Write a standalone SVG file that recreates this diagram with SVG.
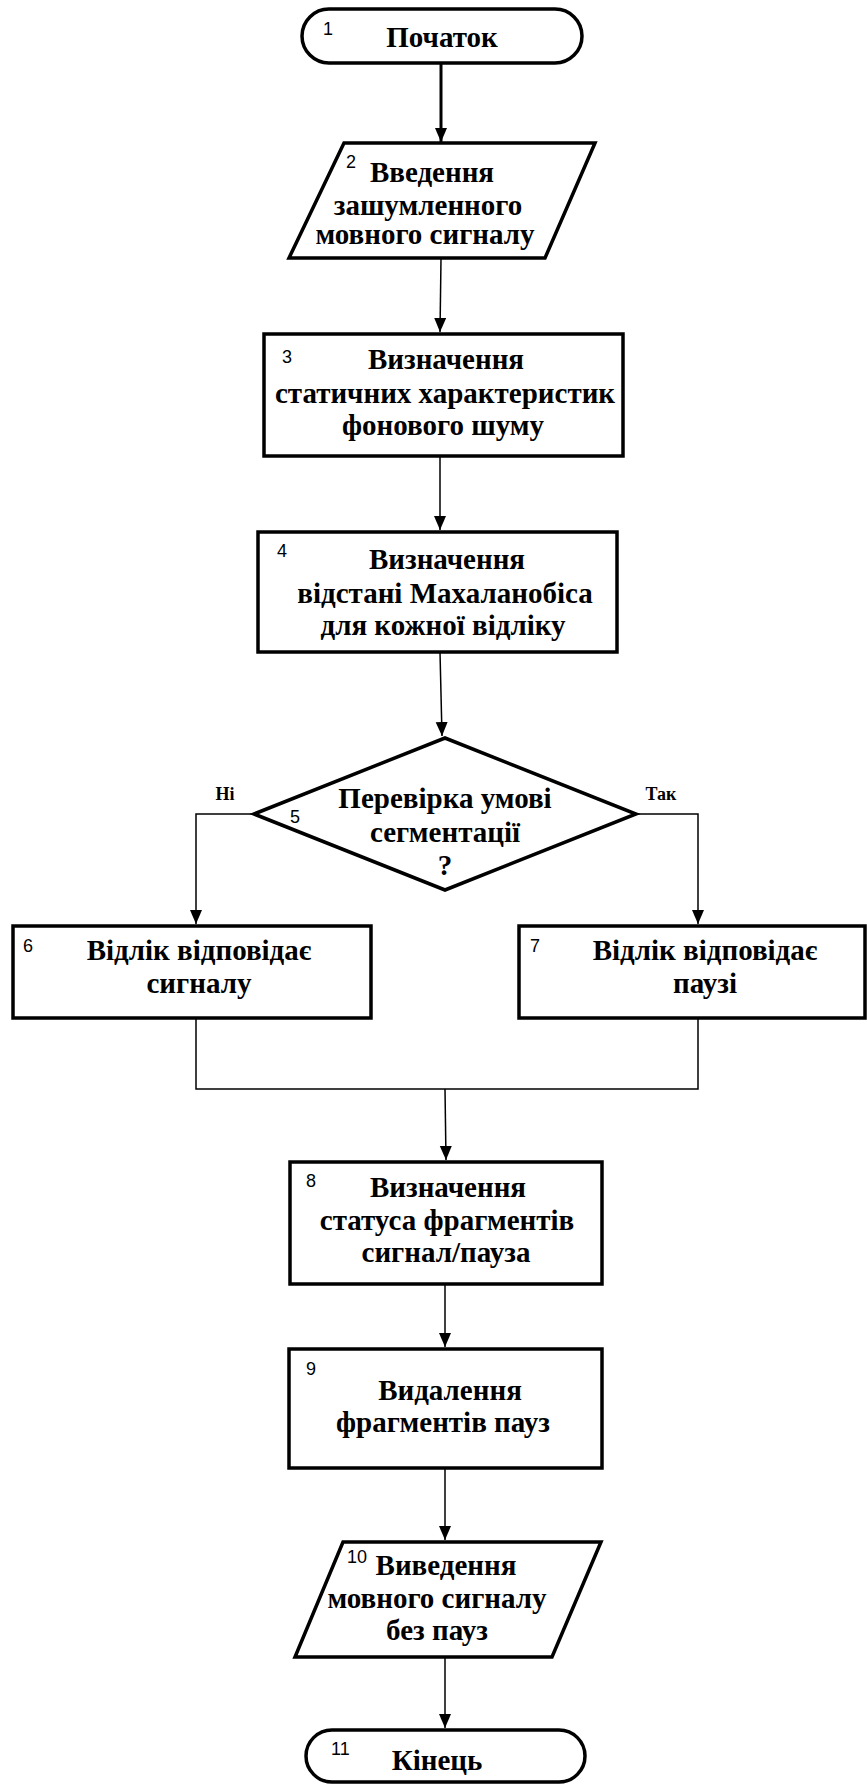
<svg xmlns="http://www.w3.org/2000/svg" width="867" height="1785" viewBox="0 0 867 1785">
<style>
.shape{fill:#fff;stroke:#000;stroke-width:3.5;stroke-linejoin:miter}
.t{font-family:"Liberation Serif","Times New Roman",serif;font-size:29px;font-weight:bold;fill:#000;text-anchor:middle}
.n{font-family:"Liberation Sans",Arial,sans-serif;font-size:18px;fill:#000}
.lbl{font-family:"Liberation Serif","Times New Roman",serif;font-size:18px;font-weight:bold;fill:#000;text-anchor:middle}
.c{fill:none;stroke:#000;stroke-width:1.5}
</style>
<defs>
<marker id="ah" markerUnits="userSpaceOnUse" markerWidth="14" markerHeight="16" refX="14" refY="6" orient="auto">
<path d="M0,0 L14,6 L0,12 Z" fill="#000"/>
</marker>
</defs>
<rect width="867" height="1785" fill="#fff"/>
<g id="connectors">
<line class="c" x1="441" y1="63" x2="441" y2="142" style="stroke-width:3" marker-end="url(#ah)"/>
<line class="c" x1="441" y1="259" x2="440" y2="332" marker-end="url(#ah)"/>
<line class="c" x1="440" y1="456" x2="440" y2="530" marker-end="url(#ah)"/>
<line class="c" x1="440" y1="652" x2="442" y2="736" marker-end="url(#ah)"/>
<polyline class="c" points="254,814 196,814 196,924" marker-end="url(#ah)"/>
<polyline class="c" points="636,814 698,814 698,924" marker-end="url(#ah)"/>
<polyline class="c" points="196,1018 196,1089 698,1089 698,1018"/>
<line class="c" x1="445" y1="1089" x2="446" y2="1160" marker-end="url(#ah)"/>
<line class="c" x1="445" y1="1284" x2="445" y2="1347" marker-end="url(#ah)"/>
<line class="c" x1="445" y1="1468" x2="445" y2="1540" marker-end="url(#ah)"/>
<line class="c" x1="445" y1="1657" x2="445" y2="1728" marker-end="url(#ah)"/>
<text class="lbl" x="225" y="800">Ні</text>
<text class="lbl" x="661" y="800">Так</text>
</g>
<g id="node1">
<rect class="shape" x="302" y="9" width="280" height="54" rx="27" ry="27"/>
<text class="n" x="323" y="35">1</text>
<text class="t" x="442" y="47">Початок</text>
</g>
<g id="node2">
<polygon class="shape" points="344,143 595,143 545,258 289,258"/>
<text class="n" x="346" y="168">2</text>
<text class="t" x="432" y="182">Введення</text>
<text class="t" x="428" y="215">зашумленного</text>
<text class="t" x="425" y="244">мовного сигналу</text>
</g>
<g id="node3">
<rect class="shape" x="264" y="334" width="359" height="122"/>
<text class="n" x="282" y="363">3</text>
<text class="t" x="446" y="369">Визначення</text>
<text class="t" x="445" y="403">статичних характеристик</text>
<text class="t" x="443" y="435">фонового шуму</text>
</g>
<g id="node4">
<rect class="shape" x="258" y="532" width="359" height="120"/>
<text class="n" x="277" y="557">4</text>
<text class="t" x="447" y="569">Визначення</text>
<text class="t" x="445" y="603">відстані Махаланобіса</text>
<text class="t" x="443" y="635">для кожної відліку</text>
</g>
<g id="node5">
<polygon class="shape" points="445,738 636,814 445,890 254,814"/>
<text class="n" x="290" y="823">5</text>
<text class="t" x="445" y="808">Перевірка умові</text>
<text class="t" x="445" y="842">сегментації</text>
<text class="t" x="445" y="875">?</text>
</g>
<g id="node6">
<rect class="shape" x="13" y="926" width="358" height="92"/>
<text class="n" x="23" y="952">6</text>
<text class="t" x="199" y="960">Відлік відповідає</text>
<text class="t" x="199" y="993">сигналу</text>
</g>
<g id="node7">
<rect class="shape" x="519" y="926" width="346" height="92"/>
<text class="n" x="530" y="952">7</text>
<text class="t" x="705" y="960">Відлік відповідає</text>
<text class="t" x="705" y="993">паузі</text>
</g>
<g id="node8">
<rect class="shape" x="290" y="1162" width="312" height="122"/>
<text class="n" x="306" y="1187">8</text>
<text class="t" x="448" y="1197">Визначення</text>
<text class="t" x="447" y="1230">статуса фрагментів</text>
<text class="t" x="446" y="1262">сигнал/пауза</text>
</g>
<g id="node9">
<rect class="shape" x="289" y="1349" width="313" height="119"/>
<text class="n" x="306" y="1375">9</text>
<text class="t" x="450" y="1400">Видалення</text>
<text class="t" x="443" y="1432">фрагментів пауз</text>
</g>
<g id="node10">
<polygon class="shape" points="343,1542 601,1542 552,1657 295,1657"/>
<text class="n" x="347" y="1563">10</text>
<text class="t" x="446" y="1575">Виведення</text>
<text class="t" x="437" y="1608">мовного сигналу</text>
<text class="t" x="437" y="1640">без пауз</text>
</g>
<g id="node11">
<rect class="shape" x="306" y="1730" width="279" height="52" rx="26" ry="26"/>
<text class="n" x="331" y="1755">11</text>
<text class="t" x="437" y="1770">Кінець</text>
</g>
</svg>
